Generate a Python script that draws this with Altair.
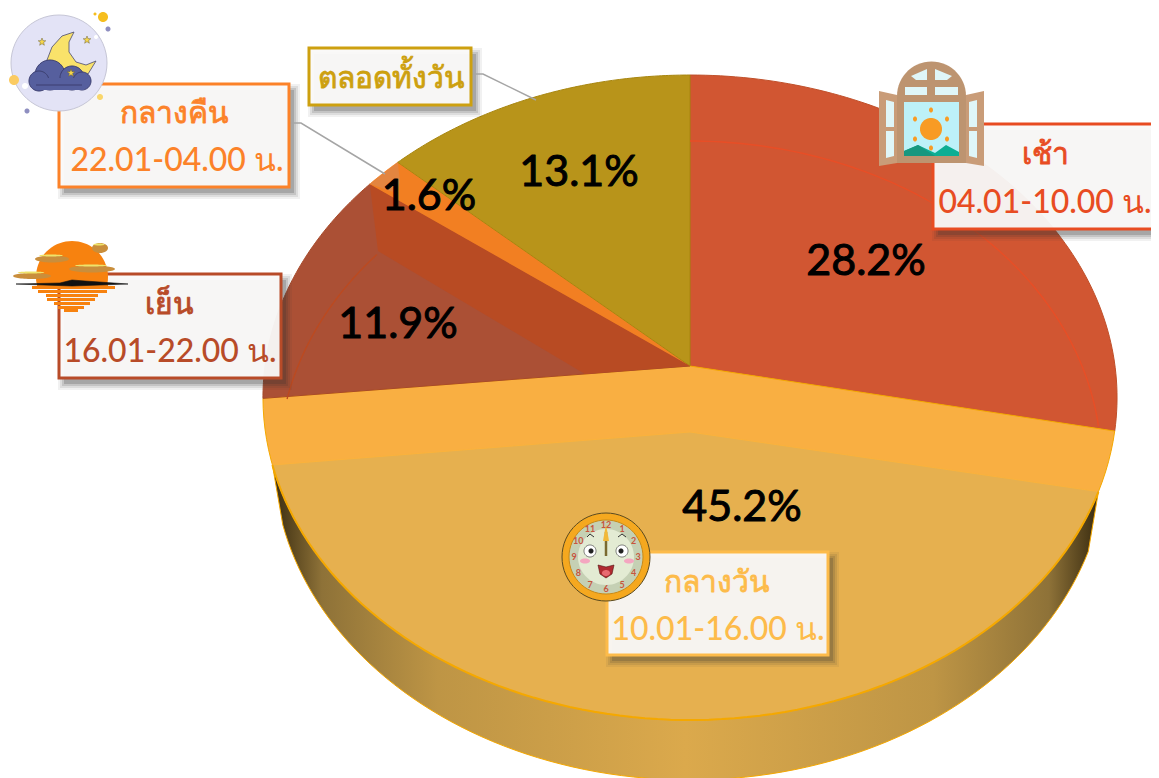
import math
import altair as alt

# ---- data ----
SHARES = [28.2, 45.2, 11.9, 1.6, 13.1]
PCT_LABELS = ["28.2%", "45.2%", "11.9%", "1.6%", "13.1%"]
PCT_X = [866, 742, 398, 429, 579]
PCT_Y = [262, 508, 325, 197, 173]
SLICE_COLORS = ["#D15632", "#F9AF42", "#AB5035", "#F27F22", "#B8941A"]
NAMES = ["เช้า", "กลางวัน", "เย็น", "กลางคืน", "ตลอดทั้งวัน"]
TIMES = ["04.01-10.00 น.", "10.01-16.00 น.", "16.01-22.00 น.", "22.01-04.00 น.", ""]
BOX_COLORS = ["#E84C22", "#FDBB4A", "#B84B28", "#FC8229", "#CDA00F"]
BOX_L = [933, 607, 59, 59, 309]
BOX_T = [124, 552, 274, 84, 48]
BOX_R = [1170, 828, 281, 289, 471]
BOX_B = [229, 655, 378, 187, 105]
NAME_X = [1045, 717, 169, 174, 391]
NAME_Y = [155, 583, 305, 114, 79]
TIME_X = [1045, 718, 170, 177, 0]
TIME_Y = [203, 630, 352, 161, 0]
CLOCK_NUMS = ["12", "1", "2", "3", "4", "5", "6", "7", "8", "9", "10", "11"]

FONT = "Lato"

# ---- geometry of the tilted disc (perspective mapping of a circle) ----
CX, CY, A, B, K = 690, 366, 425, 319.4, 0.0977

def P(t, s=1.0, dy=0.0):
    r = math.radians(t)
    u, v = math.sin(r), -math.cos(r)
    w = 1 - K * v
    return [CX + s * A * u / w, CY + B * v / w + dy]

def arc(t0, t1, s=1.0, dy=0.0, n=90):
    return [P(t0 + (t1 - t0) * i / n, s, dy) for i in range(n + 1)]

def nearest_t(px, py):
    ts = [i / 4 for i in range(1440)]
    return min(ts, key=lambda t: (P(t)[0] - px) ** 2 + (P(t)[1] - py) ** 2)

features = []

def add(coords, fill, stroke="transparent", sw=0, op=1.0, line=False):
    if line:
        geom = {"type": "LineString", "coordinates": coords}
    else:
        geom = {"type": "Polygon", "coordinates": [coords + [coords[0]]]}
    features.append({"type": "Feature", "geometry": geom,
                     "properties": {"fill": fill, "stroke": stroke, "sw": sw, "op": op}})

def circle(cx, cy, r, fill, stroke="transparent", sw=0, ry=None, op=1.0):
    ry = r if ry is None else ry
    add([[cx + r * math.cos(i * math.pi / 30), cy + ry * math.sin(i * math.pi / 30)] for i in range(60)],
        fill, stroke, sw, op)

def rect(l, t, r, b, fill, stroke="transparent", sw=0, op=1.0):
    add([[l, t], [r, t], [r, b], [l, b]], fill, stroke, sw, op)

# slices
edges = [0]
for s in SHARES:
    edges.append(edges[-1] + s * 3.6)
edges[-1] = 360
STROKES = ["#C0502A", "#F5A800", "#A84A2A", "#F27F22", "#A8860F"]
for i, col in enumerate(SLICE_COLORS):
    add([[CX, CY]] + arc(edges[i], edges[i + 1]), col, STROKES[i], 1)

# bevels
t_r, t_l = nearest_t(1105, 495), nearest_t(273, 465)
add([[690, 432]] + arc(t_r, t_l), "#E6B04F", "#F5A800", 0)
add([P(t_l), [690, 432], P(t_r)], "transparent", "#FBB23C", 1, line=True)
add(arc(t_r, t_l), "transparent", "#F5A800", 2, line=True)
add([P(edges[3]), [690, 366], [585, 374], [378, 251]], "#B84B23")
add(arc(276, 306, 0.963, 66), "transparent", "#BC4A20", 1.4, line=True)
add(arc(0, 89, 0.963, 66), "transparent", "#E84E26", 1.4, line=True)
add([[370, 184], P(edges[4]), [400, 182], [396, 193]], "#E38540")

# shadows
for i in range(5):
    for g, o in ((6, 0.07), (4, 0.10), (2, 0.14), (0, 0.2)):
        rect(BOX_L[i] + 5 - g, BOX_T[i] + 6 - g, BOX_R[i] + 5 + g, BOX_B[i] + 6 + g, "#333333", op=o)

# leader lines
add([[289, 123], [301, 123], [385, 174]], "transparent", "#A5A5A5", 1.5, line=True)
add([[471, 74], [483, 74], [536, 100]], "transparent", "#A5A5A5", 1.5, line=True)

# label boxes
for i in range(5):
    rect(BOX_L[i], BOX_T[i], BOX_R[i], BOX_B[i], "rgba(252,251,250,0.94)", BOX_COLORS[i], 3)

# moon icon
circle(59, 63, 48, "#E3E3F6", "#C6C6D6", 1)
for c in [(103, 17, 5, "#F6BE1E"), (108, 29, 2.5, "#8E8EC0"), (14, 80, 5, "#FBCB62"),
          (27, 111, 2.5, "#8E8EC0"), (100, 97, 3, "#F9D66B"), (95, 14, 1.5, "#F6BE1E")]:
    circle(*c)
circle(25, 86, 3, "#FFFFFF")
circle(96, 37, 2, "#FFFFFF")
add([[74, 32], [62, 36], [52, 47], [47, 60], [50, 72], [62, 75], [78, 76], [88, 74], [96, 61],
     [86, 65], [76, 62], [69, 52], [69, 42]], "#F9E26A", "#4A4A70", 0.8)
cloud = "#565F9E"
circle(50, 75, 15, cloud, "#3C3F70", 1)
circle(72, 78, 12, cloud, "#3C3F70", 1)
circle(39, 81, 10, cloud, "#3C3F70", 1)
circle(82, 81, 9, cloud, "#3C3F70", 1)
rect(36, 78, 84, 90, cloud)
add([[36, 85], [82, 85]], "transparent", "#3C3F70", 1, line=True)
for x, y in [(42, 42), (87, 40), (71, 73)]:
    add([[x + (4 if j % 2 == 0 else 1.7) * math.sin(j * math.pi / 5),
          y - (4 if j % 2 == 0 else 1.7) * math.cos(j * math.pi / 5)] for j in range(10)], "#F6D64A", "#6A6030", 0.5)

# sunset icon
add([[72 + 36 * math.cos(math.radians(a)), 277 + 36 * math.sin(math.radians(a))] for a in range(170, 371, 5)], "#F7820F")
rect(37, 283, 108, 287, "#F7820F")
for y, h, l, r in [(286, 3, 32, 115), (290, 3, 38, 107), (294, 3, 46, 98), (298, 3, 47, 95), (302, 3, 54, 90), (306, 3, 58, 84), (309, 3, 64, 78)]:
    rect(l, y, r, y + h, "#F7820F")
add([[16, 284], [60, 283], [72, 280], [85, 281], [128, 284], [72, 286]], "#111111", "#111111", 0.6)
for cx, cy, rx, ry in [(52, 258, 17, 3.5), (32, 275, 19, 3), (92, 268, 23, 3.5), (100, 247, 8, 5)]:
    circle(cx, cy + 1, rx, "#C98E3C", ry=ry)
    circle(cx - 1, cy - 2.5, rx * 0.7, "#EFE36A", ry=1)

# window icon
wood, pale = "#BD9470", "#DFF6F8"
add([[879, 91], [897, 95], [897, 163], [879, 166]], "#C99C78")
add([[984, 91], [966, 95], [966, 163], [984, 166]], "#C99C78")
add([[886, 100], [894, 102], [894, 127], [886, 127]], pale)
add([[886, 131], [894, 131], [894, 156], [886, 158]], pale)
add([[977, 100], [969, 102], [969, 127], [977, 127]], pale)
add([[977, 131], [969, 131], [969, 156], [977, 158]], pale)
circle(931.5, 96, 34.5, wood)
rect(897, 96, 966, 163, wood)
add([[911, 76], [927, 69], [927, 80], [916, 80]], pale)
add([[952, 76], [935, 69], [935, 80], [947, 80]], pale)
rect(905, 87, 927, 95, pale)
rect(935, 87, 958, 95, pale)
rect(904, 102, 959, 156, "#BDF1F8")
circle(931, 129, 11, "#F89B24")
for dx, dy in [(0, -19), (16, -10), (16, 10), (0, 19), (-16, 10), (-16, -10)]:
    circle(931 + dx, 129 + dy, 2, "#F89B24", ry=2.5)
add([[904, 156], [904, 151], [918, 145], [935, 153], [946, 145], [959, 152], [959, 156]], "#0DAE94")
add([[904, 156], [904, 151], [918, 145], [935, 156]], "#17977F")

# clock icon
circle(606, 557, 44, "#F5A81F", "#5A4A20", 1)
circle(606, 557, 37, "#C5D0B4", "#C88A18", 1)
circle(606, 557, 28, "#E3EBD3")
circle(590, 551, 6, "#FFFFFF", "#444444", 0.7)
circle(622, 551, 6, "#FFFFFF", "#444444", 0.7)
circle(591, 551, 2.5, "#222222")
circle(621, 551, 2.5, "#222222")
add([[587, 537], [590, 534], [594, 537]], "transparent", "#333333", 1, line=True)
add([[618, 537], [622, 534], [626, 537]], "transparent", "#333333", 1, line=True)
circle(585, 561, 5, "#F4A6C0", ry=2.5)
circle(629, 561, 5, "#F4A6C0", ry=2.5)
add([[598, 565], [606, 567], [614, 565], [612, 574], [606, 578], [600, 574]], "#B02A30", "#501010", 0.6)
circle(606, 573, 4, "#E86A70", ry=3)
add([[606, 556], [606, 532]], "transparent", "#7A6A30", 2.5, line=True)
add([[603, 541], [606, 524], [609, 541]], "#F2B93A")

geo = alt.Chart(alt.Data(values=features)).mark_geoshape().encode(
    fill=alt.Fill("properties.fill:N", scale=None),
    stroke=alt.Stroke("properties.stroke:N", scale=None),
    strokeWidth=alt.StrokeWidth("properties.sw:Q", scale=None),
    opacity=alt.Opacity("properties.op:Q", scale=None),
)

# side wall of the disc, lit by a gradient
wall_pts = arc(t_l, t_r, 0.975, 60) + arc(t_r, t_l)
wall = alt.Chart(alt.Data(values=[{"type": "Feature", "geometry": {"type": "Polygon", "coordinates": [wall_pts + [wall_pts[0]]]},
                                   "properties": {}}])).mark_geoshape(
    stroke="#F5A800", strokeWidth=1,
    fill=alt.Gradient(gradient="linear", x1=0, x2=1, y1=0, y2=0, stops=[
        alt.GradientStop(color="#3A2C10", offset=0),
        alt.GradientStop(color="#8E7238", offset=0.06),
        alt.GradientStop(color="#BE9545", offset=0.2),
        alt.GradientStop(color="#DBA94C", offset=0.5),
        alt.GradientStop(color="#BE9545", offset=0.8),
        alt.GradientStop(color="#8E7238", offset=0.94),
        alt.GradientStop(color="#3A2C10", offset=1),
    ]))

def text_layer(rows, size, weight=500, stroke=0.0):
    kw = {"strokeWidth": stroke, "strokeJoin": "round"} if stroke else {}
    enc = dict(longitude="x:Q", latitude="y:Q", text="t:N", color=alt.Color("c:N", scale=None))
    if stroke:
        enc["stroke"] = alt.Stroke("c:N", scale=None)
    return alt.Chart(alt.Data(values=rows)).mark_text(
        font=FONT, fontSize=size, fontWeight=weight, align="center", baseline="middle", **kw
    ).encode(**enc)

pct = text_layer([{"x": x, "y": y, "t": t, "c": "#000000"} for x, y, t in zip(PCT_X, PCT_Y, PCT_LABELS)], 43, 400, 1.0)
names = text_layer([{"x": x, "y": y, "t": t, "c": c} for x, y, t, c in zip(NAME_X, NAME_Y, NAMES, BOX_COLORS)], 30, 400, 0.8)
times = text_layer([{"x": x, "y": y, "t": t, "c": c} for x, y, t, c in zip(TIME_X, TIME_Y, TIMES, BOX_COLORS) if t], 32)
clock_rows = []
for i, n in enumerate(CLOCK_NUMS):
    a = math.radians(i * 30)
    clock_rows.append({"x": 606 + 32 * math.sin(a), "y": 557 - 32 * math.cos(a), "t": n, "c": "#C8553D"})
clock = text_layer(clock_rows, 9, 700)

chart = alt.layer(wall, geo, clock, pct, names, times).properties(
    width=1143, height=770, padding=0, autosize=alt.AutoSizeParams(type="none"),
    background="#FFFFFF",
    projection=alt.Projection(type="identity", scale=1, translate=[-8, -8]),
).configure_view(stroke=None)

chart.save("out.html", embed_options={"renderer": "svg", "actions": False})
